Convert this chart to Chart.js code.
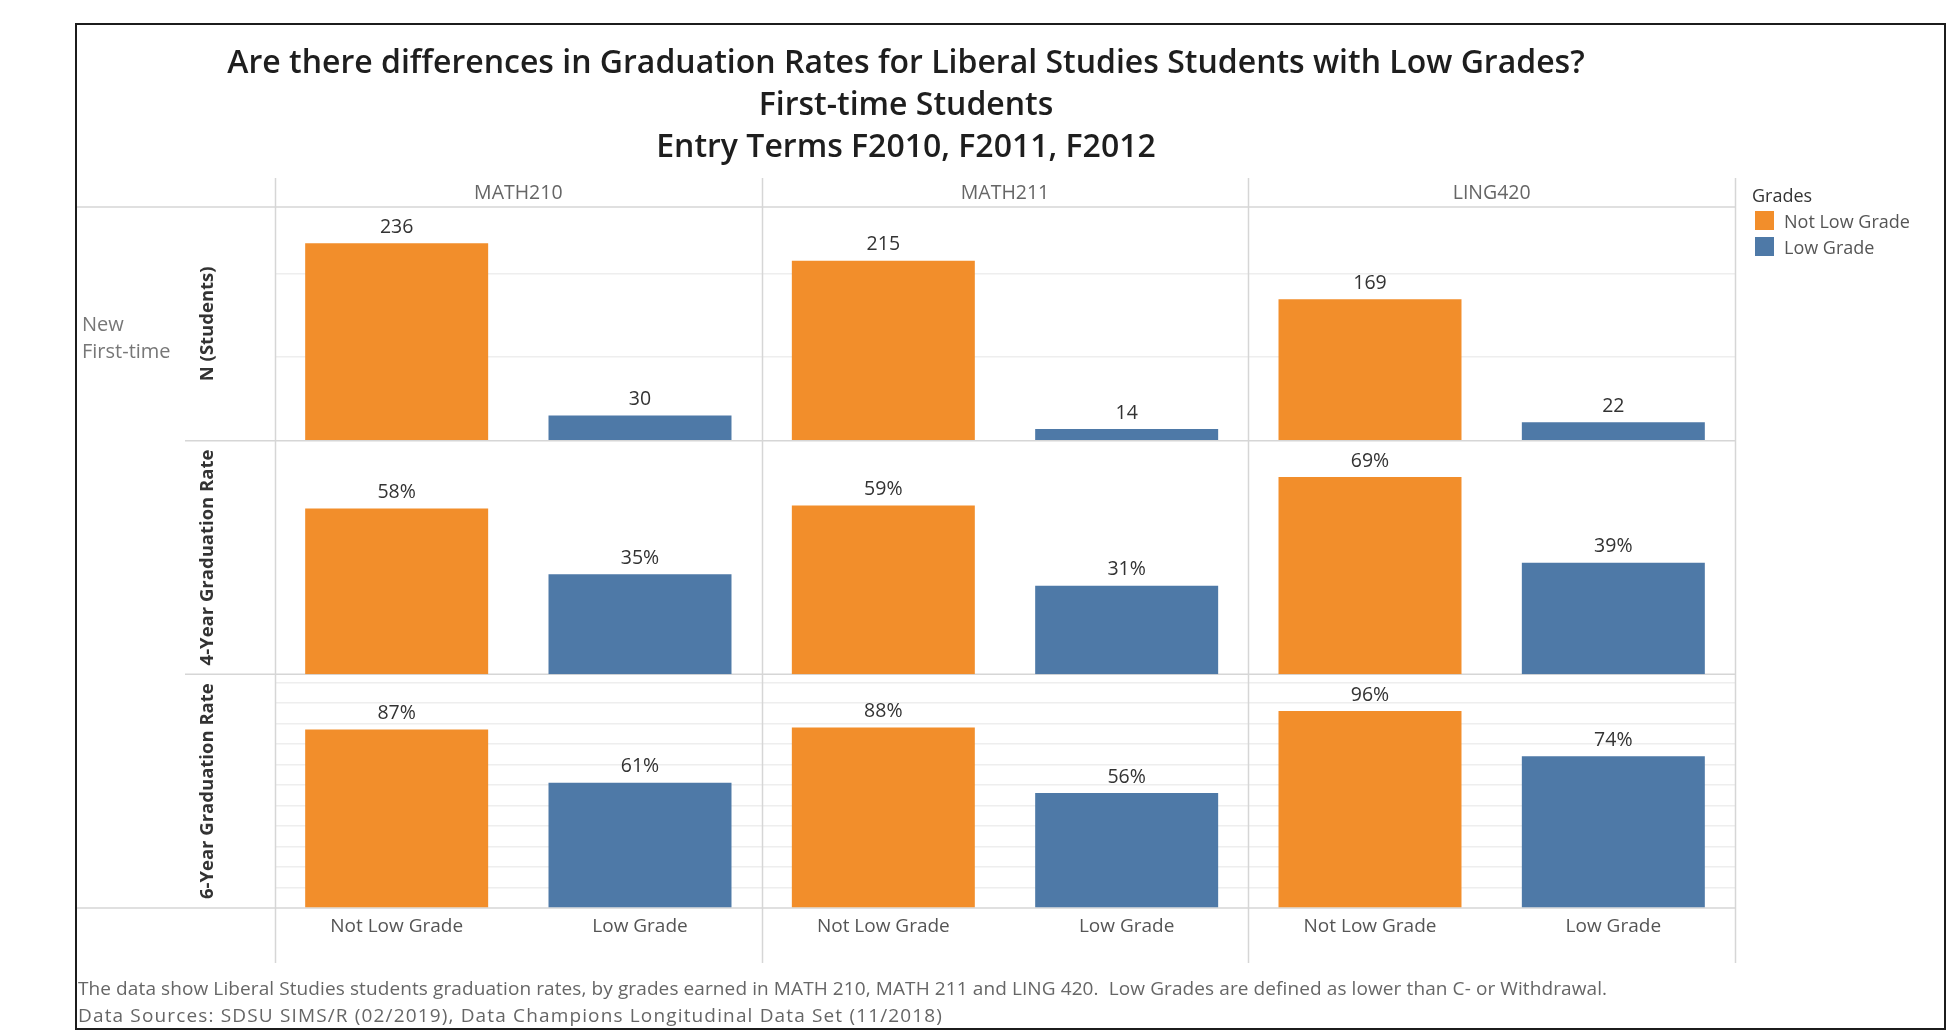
<!DOCTYPE html>
<html>
<head>
<meta charset="utf-8">
<title>Graduation Rates for Liberal Studies Students with Low Grades</title>
<script src="https://cdn.jsdelivr.net/npm/chart.js@4.4.1/dist/chart.umd.min.js"></script>
<style>
    html, body { margin: 0; padding: 0; background: #fff; }
    #page { position: relative; width: 1947px; height: 1033px; overflow: hidden; font-family: 'Open Sans', sans-serif; }
    #chart { position: absolute; left: 0; top: 0; }
    #frame { position: absolute; left: 75px; top: 23px; width: 1871px; height: 1007px; box-sizing: border-box; border: 2px solid #1c1c1c; pointer-events: none; }
    #title { position: absolute; left: 77px; top: 40px; width: 1658px; text-align: center; color: #1e1e1e; font-size: 32px; font-weight: 600; line-height: 42px; }
    #legend { position: absolute; left: 1752px; top: 182px; font-size: 18px; line-height: 26px; color: #555; }
    #legend .head { color: #333; }
    #legend .item { position: relative; padding-left: 32px; }
    #legend .sw { position: absolute; left: 3px; top: 3px; width: 19px; height: 19px; }
    #footer { position: absolute; left: 78px; top: 975px; font-size: 19px; line-height: 27px; color: #666; white-space: nowrap; }
    #footer .l1 { letter-spacing: 0.1px; }
    #footer .l2 { letter-spacing: 1.15px; }
</style>
</head>
<body>
<div id="page">
    <canvas id="chart" width="1947" height="1033"></canvas>
    <div id="title">
        <div>Are there differences in Graduation Rates for Liberal Studies Students with Low Grades?</div>
        <div>First-time Students</div>
        <div>Entry Terms F2010, F2011, F2012</div>
    </div>
    <div id="legend"></div>
    <div id="footer">
        <div class="l1">The data show Liberal Studies students graduation rates, by grades earned in MATH 210, MATH 211 and LING 420.&nbsp; Low Grades are defined as lower than C- or Withdrawal.</div>
        <div class="l2">Data Sources: SDSU SIMS/R (02/2019), Data Champions Longitudinal Data Set (11/2018)</div>
    </div>
    <div id="frame"></div>
</div>
<script>
var courses = ['MATH210', 'MATH211', 'LING420'];
var grades = ['Not Low Grade', 'Low Grade'];
var gradeColors = ['#F28E2B', '#4E79A7'];
var rowLabels = ['N (Students)', '4-Year Graduation Rate', '6-Year Graduation Rate'];

// one value per course x grade: MATH210 (not low, low), MATH211 (...), LING420 (...)
var studentsN = [236, 30, 215, 14, 169, 22];
var grad4Year = [58, 35, 59, 31, 69, 39];
var grad6Year = [87, 61, 88, 56, 96, 74];

var labels = [];
var barColors = [];
courses.forEach(function () {
    grades.forEach(function (g, i) {
        labels.push(g);
        barColors.push(gradeColors[i]);
    });
});

// legend
var legend = document.getElementById('legend');
legend.innerHTML = '<div class="head">Grades</div>' + grades.map(function (g, i) {
    return '<div class="item"><span class="sw" style="background:' + gradeColors[i] + '"></span>' + g + '</div>';
}).join('');

var FONT = "'Open Sans', sans-serif";
var LINE = '#d6d6d6';

function rowAxis(max, step, weight, showGrid) {
    return {
        type: 'linear',
        position: 'left',
        stack: 'rows',
        stackWeight: 1,
        weight: weight,
        min: 0,
        max: max,
        ticks: { display: false, stepSize: step, includeBounds: false },
        border: { display: false },
        grid: {
            display: showGrid,
            drawTicks: false,
            lineWidth: 1.5,
            color: function (c) { return c.tick && c.tick.value === 0 ? 'rgba(0,0,0,0)' : '#eeeeee'; }
        },
        afterFit: function (s) { s.width = 0; }
    };
}

// lines of the table: header, row dividers, bottom, panel separators
var tableLines = {
    id: 'tableLines',
    beforeDatasetsDraw: function (chart) {
        var ctx = chart.ctx, a = chart.chartArea;
        var panelW = (a.right - a.left) / courses.length;
        ctx.save();
        ctx.strokeStyle = LINE;
        ctx.lineWidth = 1.5;
        ctx.beginPath();
        ctx.moveTo(77, a.top); ctx.lineTo(a.right, a.top);
        ctx.moveTo(77, a.bottom); ctx.lineTo(a.right, a.bottom);
        ctx.moveTo(185, chart.scales.yN.bottom); ctx.lineTo(a.right, chart.scales.yN.bottom);
        ctx.moveTo(185, chart.scales.y4.bottom); ctx.lineTo(a.right, chart.scales.y4.bottom);
        for (var k = 0; k <= courses.length; k++) {
            var x = Math.round(a.left + k * panelW) + 0.5;
            ctx.moveTo(x, 178); ctx.lineTo(x, 963);
        }
        ctx.stroke();

        // course headers
        ctx.fillStyle = '#666';
        ctx.font = '19.5px ' + FONT;
        ctx.textAlign = 'center';
        ctx.textBaseline = 'middle';
        courses.forEach(function (c, k) {
            ctx.fillText(c, a.left + (k + 0.5) * panelW, 193);
        });

        // row headers
        ctx.fillStyle = '#333';
        ctx.font = 'bold 18.5px ' + FONT;
        ['yN', 'y4', 'y6'].forEach(function (id, r) {
            var s = chart.scales[id];
            ctx.save();
            ctx.translate(208, (s.top + s.bottom) / 2);
            ctx.rotate(-Math.PI / 2);
            ctx.fillText(rowLabels[r], 0, 0);
            ctx.restore();
        });

        ctx.fillStyle = '#777';
        ctx.font = '20px ' + FONT;
        ctx.textAlign = 'left';
        ctx.fillText('New', 82, 325);
        ctx.fillText('First-time', 82, 352);
        ctx.restore();
    },
    afterDatasetsDraw: function (chart) {
        var ctx = chart.ctx;
        ctx.save();
        ctx.fillStyle = '#333';
        ctx.font = '19.5px ' + FONT;
        ctx.textAlign = 'center';
        ctx.textBaseline = 'middle';
        chart.data.datasets.forEach(function (ds, di) {
            chart.getDatasetMeta(di).data.forEach(function (bar, i) {
                var v = ds.data[i];
                ctx.fillText(di === 0 ? String(v) : v + '%', bar.x, bar.y - 16);
            });
        });
        ctx.restore();
    }
};

var barStyle = {
    backgroundColor: barColors,
    borderWidth: 0,
    grouped: false,
    categoryPercentage: 1,
    barPercentage: 0.752
};

new Chart(document.getElementById('chart'), {
    type: 'bar',
    data: {
        labels: labels,
        datasets: [
            Object.assign({ label: rowLabels[0], data: studentsN, yAxisID: 'yN' }, barStyle),
            Object.assign({ label: rowLabels[1], data: grad4Year, yAxisID: 'y4' }, barStyle),
            Object.assign({ label: rowLabels[2], data: grad6Year, yAxisID: 'y6' }, barStyle)
        ]
    },
    options: {
        responsive: false,
        animation: false,
        layout: { padding: { left: 275, top: 207, right: 212, bottom: 85 } },
        plugins: {
            legend: { display: false },
            tooltip: { enabled: false }
        },
        scales: {
            x: {
                type: 'category',
                offset: true,
                grid: { display: false, drawTicks: false },
                border: { display: false },
                ticks: { color: '#555', padding: 7, font: { family: FONT, size: 19 }, maxRotation: 0, autoSkip: false },
                afterFit: function (s) { s.height = 40; }
            },
            yN: rowAxis(279.3, 100, 3, true),
            y4: rowAxis(81.7, 100, 2, false),
            y6: rowAxis(113.9, 10, 1, true)
        }
    },
    plugins: [tableLines]
});
</script>
</body>
</html>
